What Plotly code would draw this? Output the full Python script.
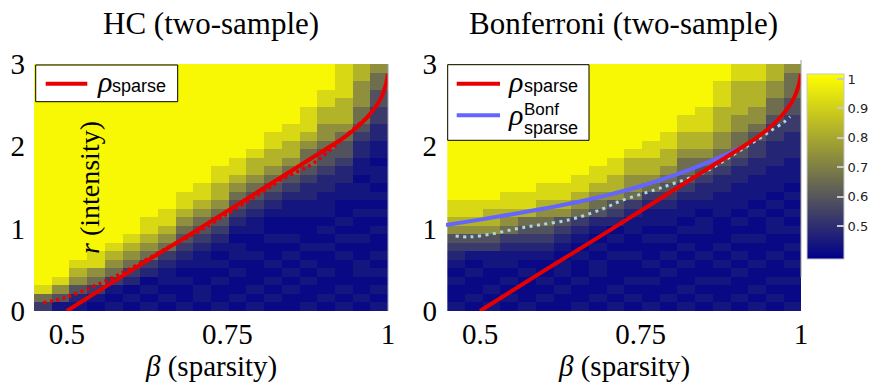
import plotly.graph_objects as go

# ---------------- data ----------------
# centres of the 20 sparsity (beta) columns of the heat maps
BETA_GRID = [0.4628, 0.4903, 0.5179, 0.5454, 0.5730, 0.6005, 0.6281, 0.6556,
             0.6832, 0.7107, 0.7383, 0.7658, 0.7934, 0.8209, 0.8485, 0.8760,
             0.9036, 0.9311, 0.9587, 0.9862]
# centres of the 29 intensity (r) rows
R_GRID = [0.0517, 0.1552, 0.2586, 0.3621, 0.4655, 0.5690, 0.6724, 0.7759,
          0.8793, 0.9828, 1.0862, 1.1897, 1.2931, 1.3966, 1.5000, 1.6034,
          1.7069, 1.8103, 1.9138, 2.0172, 2.1207, 2.2241, 2.3276, 2.4310,
          2.5345, 2.6379, 2.7414, 2.8448, 2.9483]

# power levels coded by a digit (estimated cell colours)
LEVELS = [0.41, 0.44, 0.48, 0.53, 0.59, 0.66, 0.74, 0.83, 0.92, 1.0]

# one string per beta column, rows from r=0 (left) to r=3 (right)
HC_COLUMNS = [
    "35899 99999 99999 99999 99999 9999",
    "14689 99999 99999 99999 99999 9999",
    "12467 89999 99999 99999 99999 9999",
    "01356 88999 99999 99999 99999 9999",
    "10135 67899 99999 99999 99999 9999",
    "01023 56789 99999 99999 99999 9999",
    "10102 35678 89999 99999 99999 9999",
    "01011 23567 88999 99999 99999 9999",
    "10010 12345 67889 99999 99999 9999",
    "01100 11234 56788 99999 99999 9999",
    "10010 10123 45677 88999 99999 9999",
    "01001 01101 23456 78899 99999 9999",
    "10100 01001 12345 67789 99999 9999",
    "01010 10010 01234 56778 89999 9999",
    "00101 01010 01123 45677 88999 9999",
    "10010 10100 01122 34556 78889 9999",
    "01001 00101 01112 23445 66778 8999",
    "10100 01010 10011 22344 56777 8888",
    "01001 10010 01011 01122 34556 6677",
    "10101 01001 01010 11011 22334 4556",
]

BONF_COLUMNS = [
    "10010 12346 78899 99999 99999 9999",
    "01001 01346 78899 99999 99999 9999",
    "10100 11346 77899 99999 99999 9999",
    "01010 11235 67889 99999 99999 9999",
    "10001 01234 57889 99999 99999 9999",
    "01010 01234 56788 99999 99999 9999",
    "00101 10123 46788 99999 99999 9999",
    "10010 01012 35678 89999 99999 9999",
    "01001 10101 24567 88999 99999 9999",
    "10100 01010 23467 78899 99999 9999",
    "01010 01001 12356 67789 99999 9999",
    "10010 10010 11235 67788 99999 9999",
    "01001 01010 11234 56778 89999 9999",
    "10100 10101 01123 45567 78899 9999",
    "01010 01001 10122 34567 78889 9999",
    "10010 10100 01112 23456 67778 8899",
    "01001 01010 10111 22345 56677 7788",
    "10100 10010 01011 12233 45667 7788",
    "01010 01001 10101 11222 33455 6677",
    "10010 10101 01010 11122 23344 5556",
]

# theoretical boundary rho_sparse
RHO_BETA = [0.5, 0.6, 0.7, 0.8, 0.9, 0.93, 0.95, 0.965, 0.975, 0.985, 0.992, 0.997, 1.0]
RHO_R = [0.0, 0.49, 0.97, 1.46, 1.95, 2.10, 2.22, 2.33, 2.42, 2.53, 2.64, 2.76, 2.88]

# empirical boundary, HC panel (red dotted)
HC_EMP_BETA = [0.4635, 0.50, 0.553, 0.60, 0.657, 0.702, 0.75, 0.80, 0.837, 0.879,
               0.905, 0.936, 0.964, 0.975]
HC_EMP_R = [0.10, 0.17, 0.34, 0.52, 0.77, 0.95, 1.18, 1.42, 1.61, 1.77,
            1.92, 2.14, 2.33, 2.40]

# Bonferroni boundary rho_sparse^Bonf (blue)
BONF_BETA = [0.447, 0.5, 0.55, 0.6, 0.65, 0.7, 0.75, 0.8, 0.85, 0.88, 0.91]
BONF_R = [1.045, 1.11, 1.175, 1.245, 1.32, 1.41, 1.515, 1.64, 1.79, 1.89, 2.0]

# empirical boundary, Bonferroni panel (light dotted)
BONF_EMP_BETA = [0.462, 0.484, 0.521, 0.557, 0.592, 0.640, 0.674, 0.697, 0.720,
                 0.772, 0.798, 0.845, 0.877, 0.903, 0.934, 0.955, 0.973, 0.983]
BONF_EMP_R = [0.911, 0.90, 0.94, 1.00, 1.045, 1.11, 1.19, 1.26, 1.34,
              1.47, 1.54, 1.67, 1.81, 1.94, 2.09, 2.20, 2.29, 2.36]

X_TICKS = [0.5, 0.75, 1.0]
X_TICK_TEXT = ["0.5", "0.75", "1"]
Y_TICKS = [0, 1, 2, 3]
Y_TICK_TEXT = ["0", "1", "2", "3"]
CB_TICKS = [0.5, 0.6, 0.7, 0.8, 0.9, 1.0]
CB_TICK_TEXT = ["0.5", "0.6", "0.7", "0.8", "0.9", "1"]
Z_MIN, Z_MAX = 0.388, 1.017


def decode(columns):
    cols = [[LEVELS[int(ch)] for ch in c.replace(" ", "")] for c in columns]
    for c in cols:
        assert len(c) == len(R_GRID), len(c)
    assert len(cols) == len(BETA_GRID)
    return [[cols[j][i] for j in range(len(cols))] for i in range(len(R_GRID))]


Z_HC = decode(HC_COLUMNS)
Z_BONF = decode(BONF_COLUMNS)

# ---------------- layout geometry (pixels) ----------------
W, H = 877, 386
ML, MR, MT, MB = 34, 76, 64, 75
PW, PH = W - ML - MR, H - MT - MB


def px(x):
    return (x - ML) / PW


def py(y):
    return (H - MB - y) / PH


SERIF = "Liberation Serif"
SANS = "Liberation Sans"
RED = "rgb(232,0,0)"
BLUE = "rgb(100,100,255)"
CYAN = "rgb(170,215,225)"

fig = go.Figure()

fig.add_trace(go.Heatmap(x=BETA_GRID, y=R_GRID, z=Z_HC, coloraxis="coloraxis",
                         xaxis="x", yaxis="y", showlegend=False, hoverinfo="skip"))
fig.add_trace(go.Heatmap(x=BETA_GRID, y=R_GRID, z=Z_BONF, coloraxis="coloraxis",
                         xaxis="x2", yaxis="y2", showlegend=False, hoverinfo="skip"))

# HC panel lines
fig.add_trace(go.Scatter(x=HC_EMP_BETA, y=HC_EMP_R, mode="lines", xaxis="x", yaxis="y",
                         line=dict(color=RED, width=3.5, dash="3px,3.5px", shape="spline"),
                         showlegend=False, hoverinfo="skip"))
fig.add_trace(go.Scatter(x=RHO_BETA, y=RHO_R, mode="lines", xaxis="x", yaxis="y",
                         line=dict(color=RED, width=4, shape="spline"),
                         name="rho_sparse", showlegend=False, hoverinfo="skip"))
# Bonferroni panel lines
fig.add_trace(go.Scatter(x=BONF_BETA, y=BONF_R, mode="lines", xaxis="x2", yaxis="y2",
                         line=dict(color=BLUE, width=4, shape="spline"),
                         showlegend=False, hoverinfo="skip"))
fig.add_trace(go.Scatter(x=BONF_EMP_BETA, y=BONF_EMP_R, mode="lines", xaxis="x2", yaxis="y2",
                         line=dict(color=CYAN, width=3, dash="3px,4.5px", shape="spline"),
                         showlegend=False, hoverinfo="skip"))
fig.add_trace(go.Scatter(x=RHO_BETA, y=RHO_R, mode="lines", xaxis="x2", yaxis="y2",
                         line=dict(color=RED, width=4, shape="spline"),
                         showlegend=False, hoverinfo="skip"))

axis_common = dict(showgrid=False, zeroline=False, showline=False, ticks="",
                   tickfont=dict(family=SERIF, size=29, color="black"))
x_dom1 = [0, px(388)]
x_dom2 = [px(446), 1]
fig.update_layout(
    width=W, height=H,
    margin=dict(l=ML, r=MR, t=MT, b=MB, autoexpand=False),
    paper_bgcolor="white", plot_bgcolor="white",
    xaxis=dict(domain=x_dom1, range=[0.449, 1.0], tickvals=X_TICKS, ticktext=X_TICK_TEXT,
               ticklabelstandoff=3, anchor="y", **axis_common),
    yaxis=dict(domain=[0, 1], range=[0, 3], tickvals=Y_TICKS, ticktext=Y_TICK_TEXT,
               ticklabelstandoff=8, anchor="x", **axis_common),
    xaxis2=dict(domain=x_dom2, range=[0.447, 1.0], tickvals=X_TICKS, ticktext=X_TICK_TEXT,
                ticklabelstandoff=3, anchor="y2", **axis_common),
    yaxis2=dict(domain=[0, 1], range=[0, 3], tickvals=Y_TICKS, ticktext=Y_TICK_TEXT,
                ticklabelstandoff=8, anchor="x2", **axis_common),
    coloraxis=dict(
        cmin=Z_MIN, cmax=Z_MAX,
        colorscale=[[0, "rgb(0,0,138)"], [1, "rgb(255,255,0)"]],
        colorbar=dict(
            x=px(807), xanchor="left", xpad=0,
            y=py((74 + 259) / 2), yanchor="middle", ypad=0,
            thickness=37, len=185, lenmode="pixels",
            outlinewidth=1, outlinecolor="#c8c8c8",
            tickvals=CB_TICKS, ticktext=CB_TICK_TEXT,
            ticks="inside", ticklen=7, tickwidth=2, tickcolor="#c8c8c8",
            tickfont=dict(family="DejaVu Sans", size=13, color="#222222"),
        ),
    ),
    showlegend=False,
)

shapes = []
# thin grey frame lines on the right edges
shapes.append(dict(type="line", xref="paper", yref="paper", x0=px(388), x1=px(388),
                   y0=0, y1=1, line=dict(color="#a0a0b0", width=1)))
shapes.append(dict(type="line", xref="paper", yref="paper", x0=px(801), x1=px(801),
                   y0=py(277), y1=py(60), line=dict(color="#a0a0a0", width=1)))
# left-side colorbar tick marks
for v in CB_TICKS:
    yy = 259 - (v - Z_MIN) / (Z_MAX - Z_MIN) * 185
    shapes.append(dict(type="line", xref="paper", yref="paper", x0=px(807), x1=px(814),
                       y0=py(yy), y1=py(yy), line=dict(color="#c8c8c8", width=2)))
# legend boxes
shapes.append(dict(type="rect", xref="paper", yref="paper", x0=px(35.7), x1=px(177.7),
                   y0=py(101.7), y1=py(65), fillcolor="white", line=dict(color="black", width=1)))
shapes.append(dict(type="line", xref="paper", yref="paper", x0=px(45.7), x1=px(87.3),
                   y0=py(83.7), y1=py(83.7), line=dict(color=RED, width=4)))
shapes.append(dict(type="rect", xref="paper", yref="paper", x0=px(447.7), x1=px(589),
                   y0=py(140.3), y1=py(64.7), fillcolor="white", line=dict(color="black", width=1)))
shapes.append(dict(type="line", xref="paper", yref="paper", x0=px(456.7), x1=px(500),
                   y0=py(83.7), y1=py(83.7), line=dict(color=RED, width=4)))
shapes.append(dict(type="line", xref="paper", yref="paper", x0=px(456.7), x1=px(500),
                   y0=py(115.3), y1=py(115.3), line=dict(color=BLUE, width=4)))
fig.update_layout(shapes=shapes)


def ann(text, x, y, size, family=SERIF, xanchor="center", angle=0):
    return dict(text=text, x=px(x), y=py(y), xref="paper", yref="paper", showarrow=False,
                xanchor=xanchor, yanchor="middle", textangle=angle,
                font=dict(family=family, size=size, color="black"))


annotations = [
    ann("HC (two-sample)", 211, 23, 31),
    ann("Bonferroni (two-sample)", 623.5, 23, 31),
    ann("<i>β</i> (sparsity)", 211, 366, 29),
    ann("<i>β</i> (sparsity)", 623.5, 366, 29),
    ann("<i>r</i> (intensity)", 89, 188, 28, angle=-90),
    # legend texts
    ann("<i>ρ</i>", 95, 81, 30, xanchor="left"),
    ann("sparse", 110, 86, 18, family=SANS, xanchor="left"),
    ann("<i>ρ</i>", 505.5, 81, 30, xanchor="left"),
    ann("sparse", 521.5, 86, 18, family=SANS, xanchor="left"),
    ann("<i>ρ</i>", 505.5, 114, 30, xanchor="left"),
    ann("Bonf", 521.5, 109, 17, family=SANS, xanchor="left"),
    ann("sparse", 521.5, 128, 18, family=SANS, xanchor="left"),
]
fig.update_layout(annotations=annotations)

fig.write_html("out.html",
               config={"displayModeBar": False, "staticPlot": True},
               post_script="document.body.style.margin='0px';"
                           "document.body.style.overflow='hidden';")
